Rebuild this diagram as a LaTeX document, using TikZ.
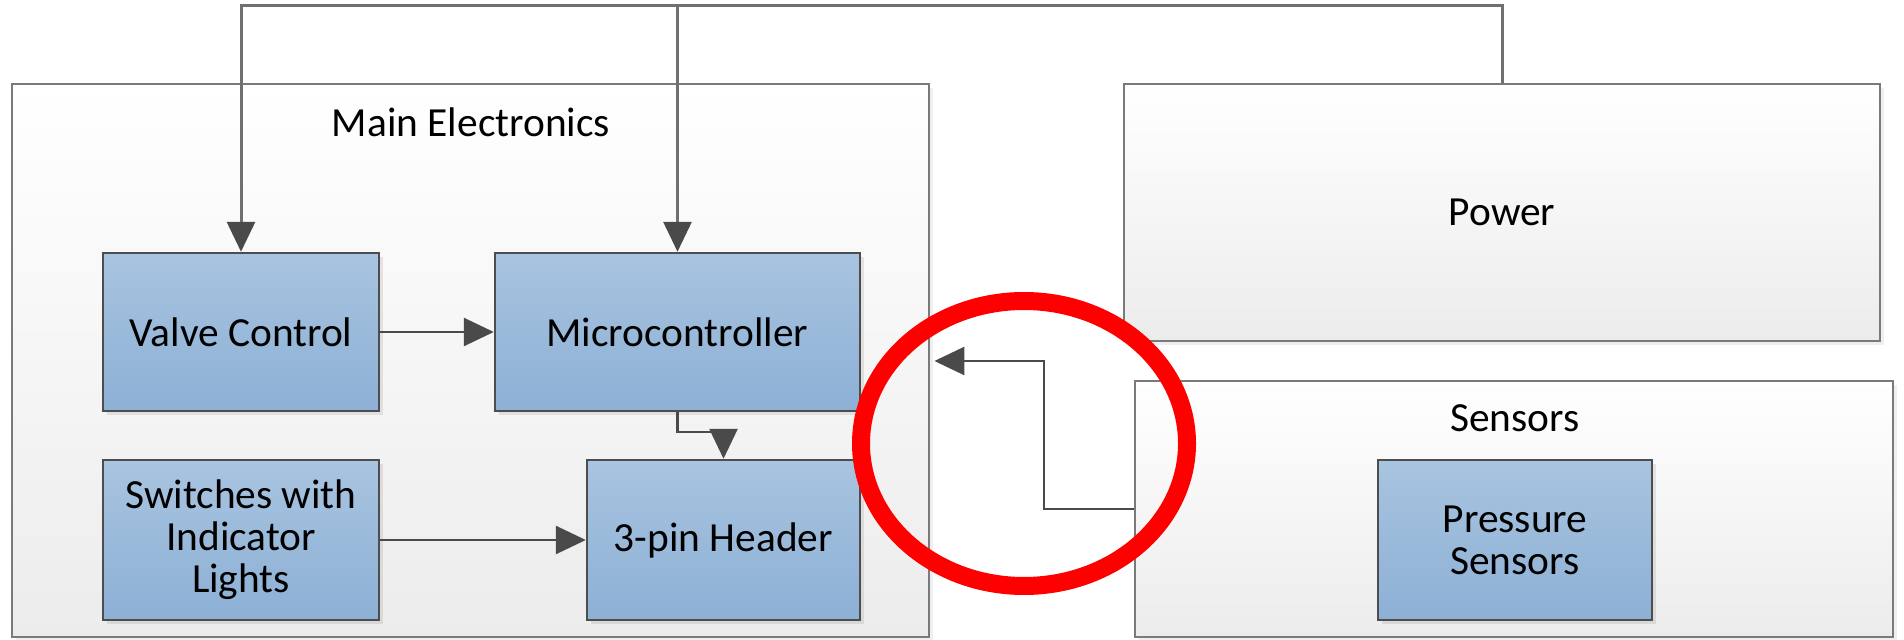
\documentclass[tikz,border=0pt]{standalone}
\usepackage{fontspec}
\setmainfont{Carlito}
\usetikzlibrary{arrows.meta,shadows}
\definecolor{bluetop}{HTML}{A8C4E0}
\definecolor{bluebot}{HTML}{8DB0D5}
\definecolor{edgec}{HTML}{4D4D4D}
\definecolor{contc}{HTML}{7A7A7A}
\definecolor{contbot}{HTML}{ECECEC}
\definecolor{wirec}{HTML}{4A4A4A}
\definecolor{busc}{HTML}{707070}
\begin{document}
\begin{tikzpicture}[x=0.5pt,y=-0.5pt,
  font=\fontsize{20.7}{21}\selectfont,
  container/.style={draw=contc, line width=1.4pt, top color=white, bottom color=contbot, inner sep=0pt,
    drop shadow={opacity=0.12, shadow xshift=2pt, shadow yshift=-2pt}},
  block/.style={draw=edgec, line width=1.2pt, top color=bluetop, bottom color=bluebot, align=center, inner sep=0pt,
    drop shadow={opacity=0.18, shadow xshift=2pt, shadow yshift=-2pt}},
  txt/.style={inner sep=0pt, align=center},
  wire/.style={draw=wirec, line width=1.3pt, line join=miter, -{Triangle[length=15pt,width=14pt]}},
  bus/.style={draw=busc, line width=1.5pt, line join=miter, -{Triangle[length=15pt,width=14pt,color=wirec]}},
]
\useasboundingbox[fill=white] (0,0) rectangle (1904,640);

% containers
\node[container, minimum width=458.5pt, minimum height=276.5pt] (main) at (470.5,360.5) {};
\node[txt] (maintitle) at (471,122) {Main Electronics};
\node[container, minimum width=378pt, minimum height=128.5pt] (power) at (1502,212.5) {};
\node[txt] (powertext) at (1502,212) {Power};
\node[container, minimum width=379pt, minimum height=128pt] (sensors) at (1514,509) {};
\node[txt] (sensorstitle) at (1515,418) {Sensors};

% blocks
\node[block, minimum width=138pt, minimum height=79pt] (valve) at (241,332) {Valve Control};
\node[block, minimum width=182.5pt, minimum height=79pt] (micro) at (677.5,332) {Microcontroller};
\node[block, minimum width=138pt, minimum height=80pt] (switches) at (241,540) {Switches with\\Indicator\\Lights};
\node[block, minimum width=136.5pt, minimum height=80pt] (header) at (723.5,540) {3-pin Header};
\node[block, minimum width=137pt, minimum height=80pt] (pressure) at (1515,540) {Pressure\\Sensors};

% connectors
\coordinate (bus) at (0,6);
\coordinate (jog) at (1044,361);
\draw[bus] (power.north) -- (power.north |- bus) -| (valve.north);
\draw[bus] (power.north) -- (power.north |- bus) -| (micro.north);
\draw[wire] (valve.east) -- (micro.west);
\draw[wire] (switches.east) -- (header.west);
\draw[wire] (micro.south) -- ++(0,20) -| (header.north);
\draw[wire, shorten >=2pt] (sensors.west) -| (jog) -- (main.east |- jog);

% highlight ring
\draw[red, line width=9pt] (1024,443.5) ellipse [x radius=163, y radius=142.5];
\end{tikzpicture}
\end{document}
